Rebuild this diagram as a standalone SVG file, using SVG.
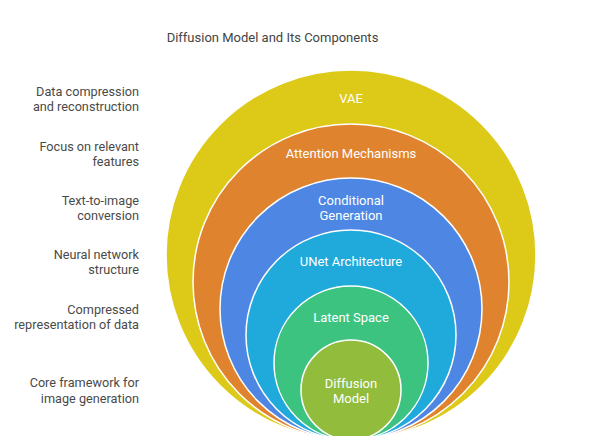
<svg xmlns="http://www.w3.org/2000/svg" width="599" height="436" viewBox="0 0 599 436">
  <style>
    .ring { stroke: #ffffff; stroke-width: 1.5; }
    .lbl { font-family: Roboto, "Liberation Sans", sans-serif; font-size: 13px; fill: #ffffff; text-anchor: middle; }
    .side { font-family: Roboto, "Liberation Sans", sans-serif; font-size: 12.7px; fill: #4a4a4a; text-anchor: end; }
    .title { font-family: Roboto, "Liberation Sans", sans-serif; font-size: 13px; fill: #444444; text-anchor: middle; }
  </style>
  <rect width="599" height="436" fill="#ffffff"/>
  <text class="title" x="272.5" y="42">Diffusion Model and Its Components</text>

  <g id="vae">
    <circle class="ring" cx="351" cy="255" r="185" fill="#DDC918"/>
    <text class="lbl" x="351" y="103">VAE</text>
  </g>
  <g id="attention">
    <circle class="ring" cx="351" cy="282" r="158" fill="#E0832F"/>
    <text class="lbl" x="351" y="158">Attention Mechanisms</text>
  </g>
  <g id="conditional">
    <circle class="ring" cx="351" cy="309" r="131" fill="#4D87E3"/>
    <text class="lbl" x="351" y="205">Conditional</text>
    <text class="lbl" x="351" y="220">Generation</text>
  </g>
  <g id="unet">
    <circle class="ring" cx="351" cy="335" r="105" fill="#1FAADB"/>
    <text class="lbl" x="351" y="266">UNet Architecture</text>
  </g>
  <g id="latent">
    <circle class="ring" cx="351" cy="363" r="77" fill="#3DC380"/>
    <text class="lbl" x="351" y="322">Latent Space</text>
  </g>
  <g id="diffusion">
    <circle class="ring" cx="351" cy="390" r="50" fill="#91BC3C"/>
    <text class="lbl" x="351" y="388">Diffusion</text>
    <text class="lbl" x="351" y="403">Model</text>
  </g>

  <g id="descriptions">
    <text class="side" x="139" y="96">Data compression</text>
    <text class="side" x="139" y="111">and reconstruction</text>
    <text class="side" x="139" y="151">Focus on relevant</text>
    <text class="side" x="139" y="166">features</text>
    <text class="side" x="139" y="205">Text-to-image</text>
    <text class="side" x="139" y="220">conversion</text>
    <text class="side" x="139" y="259">Neural network</text>
    <text class="side" x="139" y="274">structure</text>
    <text class="side" x="139" y="314">Compressed</text>
    <text class="side" x="139" y="329">representation of data</text>
    <text class="side" x="139" y="387">Core framework for</text>
    <text class="side" x="139" y="403">image generation</text>
  </g>
  <g id="connectors"/>
</svg>
